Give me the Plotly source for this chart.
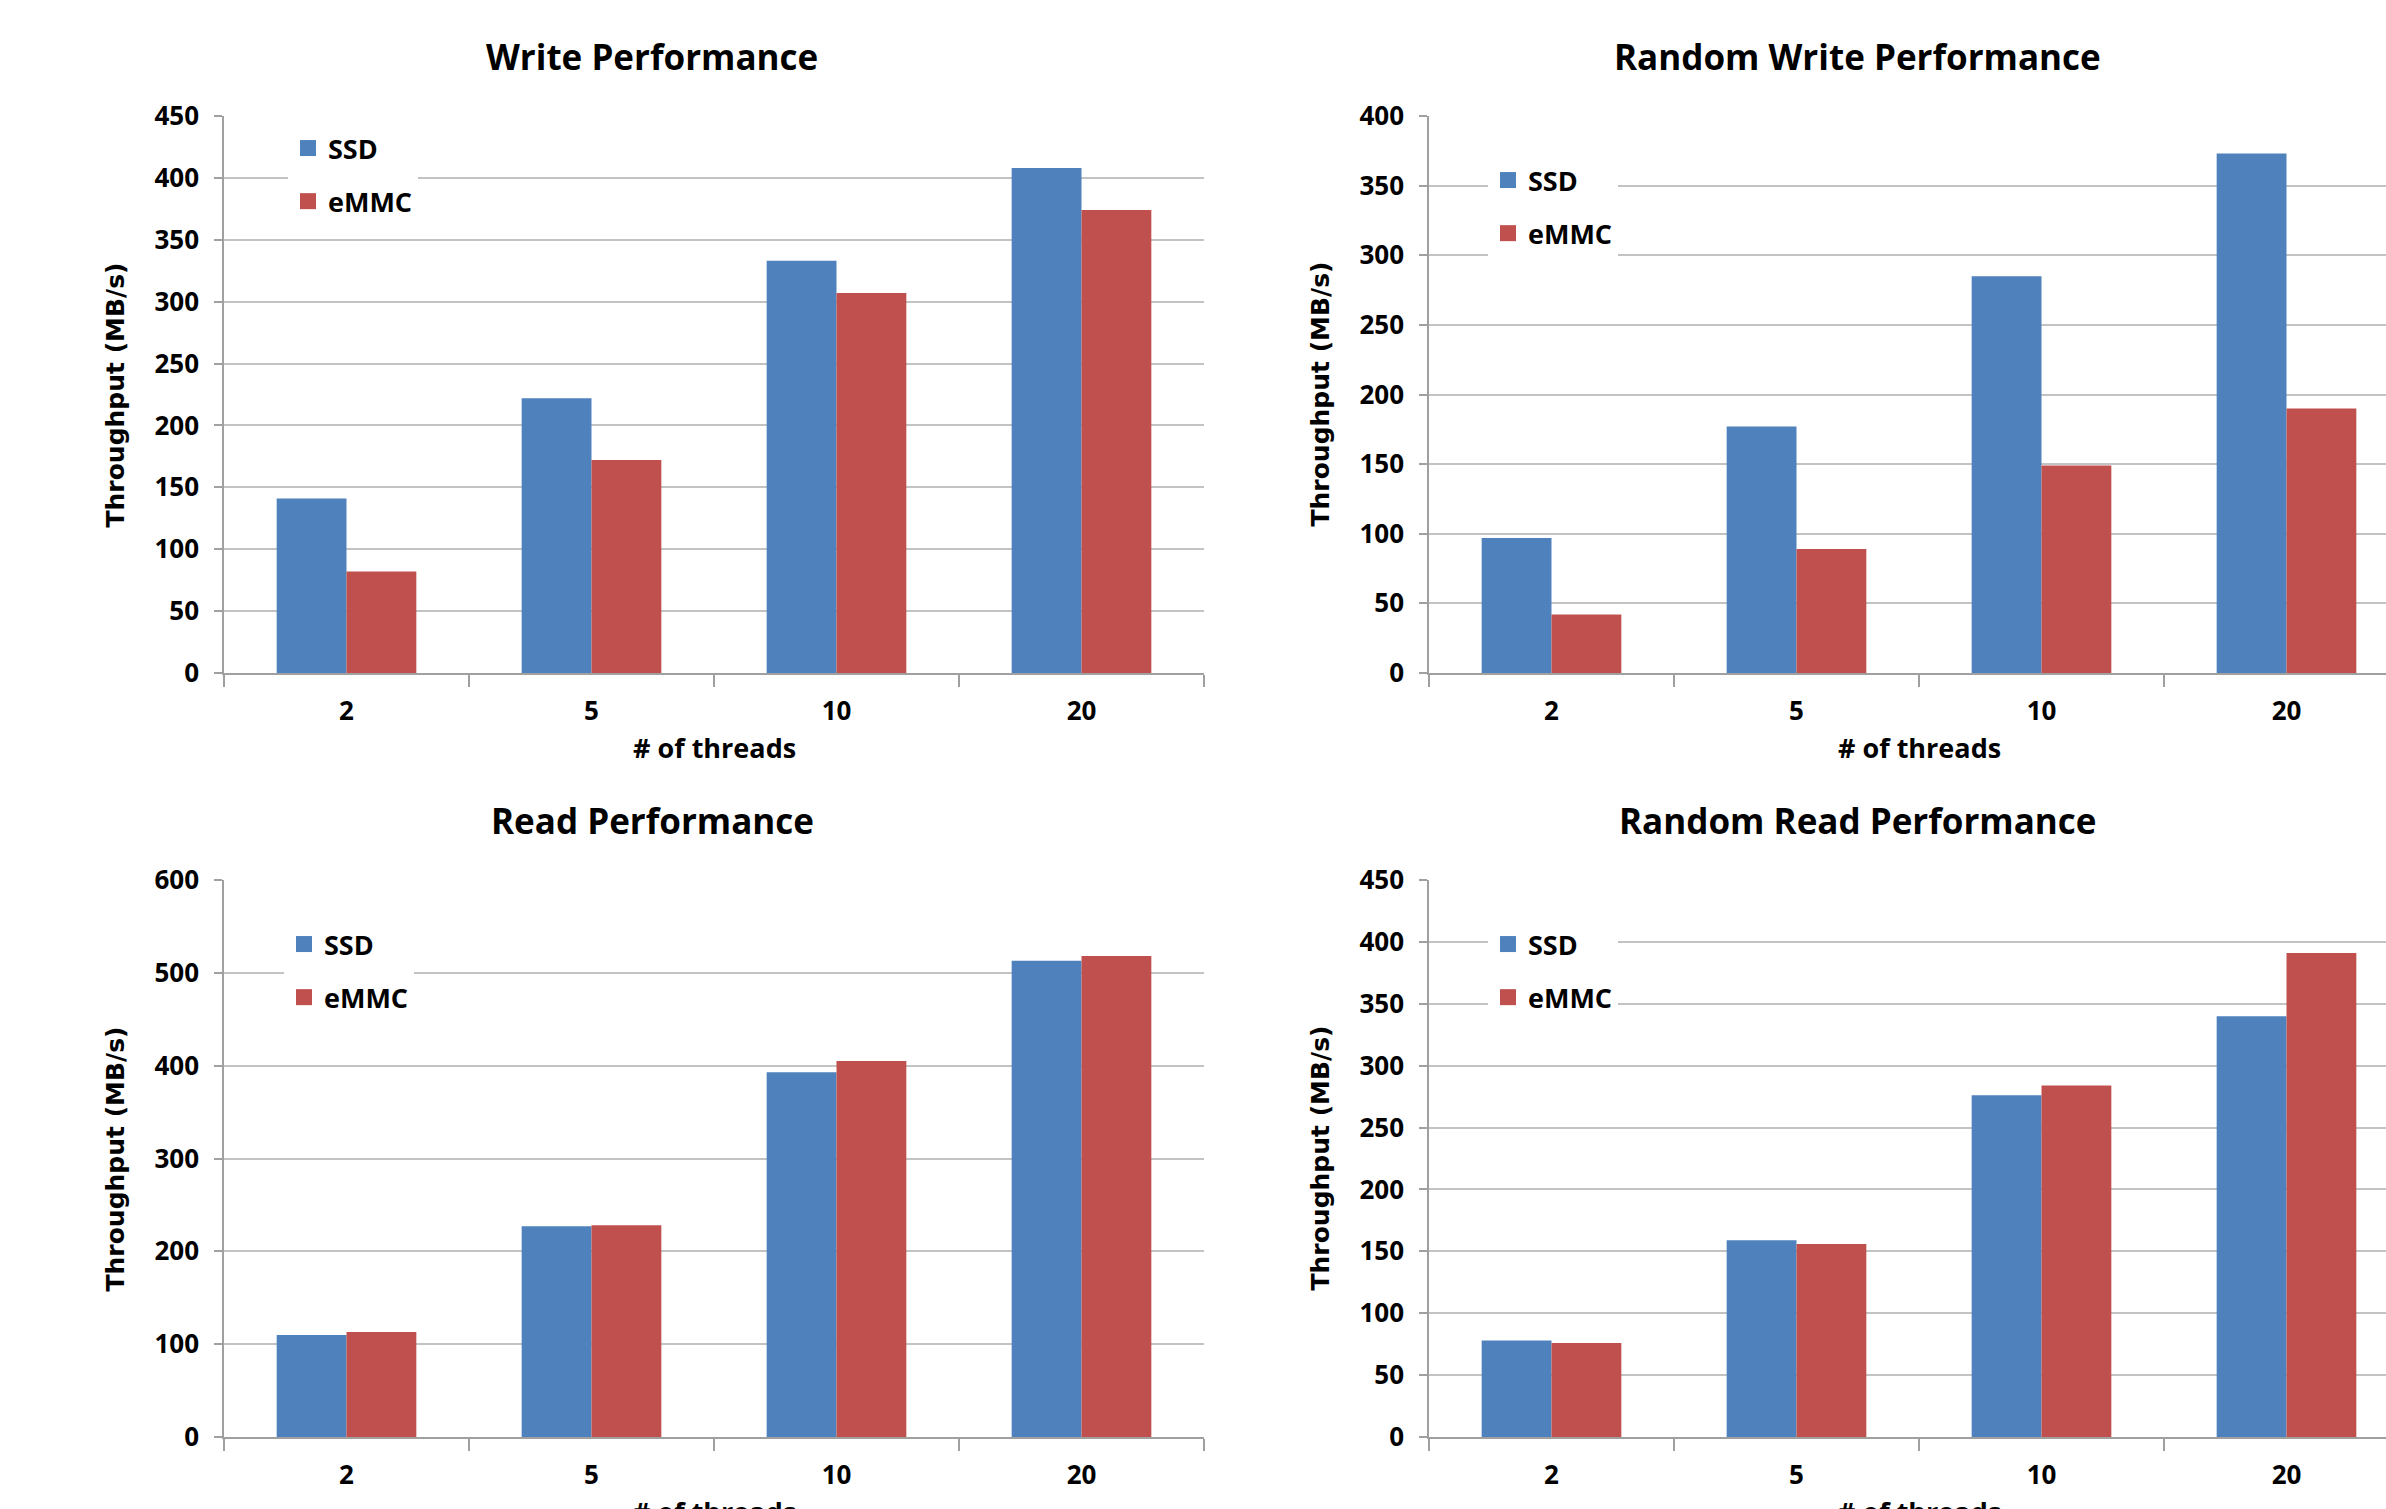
import plotly.graph_objects as go

W, H = 2386, 1509

threads = ["2", "5", "10", "20"]
series_names = ["SSD", "eMMC"]

write_ssd = [141, 222, 333, 408]
write_emmc = [82, 172, 307, 374]
rwrite_ssd = [97, 177, 285, 373]
rwrite_emmc = [42, 89, 149, 190]
read_ssd = [110, 227, 393, 513]
read_emmc = [113, 228, 405, 518]
rread_ssd = [78, 159, 276, 340]
rread_emmc = [76, 156, 284, 391]

titles = ["Write Performance", "Random Write Performance",
          "Read Performance", "Random Read Performance"]
y_max = [450, 400, 600, 450]
y_step = [50, 50, 100, 50]
y_title = "Throughput (MB/s)"
x_title = "# of threads"

BLUE = "#4F81BD"
RED = "#C0504D"
GRID = "#C3C3C3"
AXIS = "#A0A0A0"
FONT = "Open Sans"
TFONT = "DejaVu Sans"

def px(x):
    return x / W

def py(y):
    return 1 - y / H

panels = [
    dict(data=(write_ssd, write_emmc), left=224, top=116, bottom=673, tx=652),
    dict(data=(rwrite_ssd, rwrite_emmc), left=1429, top=116, bottom=673, tx=1857),
    dict(data=(read_ssd, read_emmc), left=224, top=880, bottom=1437, tx=652),
    dict(data=(rread_ssd, rread_emmc), left=1429, top=880, bottom=1437, tx=1858),
]
legend_pos = [(288, 124), (1488, 156), (284, 920), (1488, 920)]
AXW = 980

fig = go.Figure()
annotations = []
layout = {}
for i, p in enumerate(panels):
    n = "" if i == 0 else str(i + 1)
    xa, ya = "x" + n, "y" + n
    lg = "legend" if i == 0 else "legend" + str(i + 1)
    for s, (vals, col) in enumerate(zip(p["data"], (BLUE, RED))):
        fig.add_trace(go.Bar(x=threads, y=vals, name=series_names[s], marker=dict(color=col, line=dict(width=0)),
                             xaxis=xa, yaxis=ya, showlegend=False))
        fig.add_trace(go.Scatter(x=[None], y=[None], mode="markers", name=series_names[s],
                                 marker=dict(symbol="square", size=18, color=col),
                                 xaxis=xa, yaxis=ya, legend=lg, legendgroup=series_names[s] + n))
    right_px = min(p["left"] + AXW, W)
    xr_end = -0.5 + 4 * (right_px - p["left"]) / AXW
    layout["xaxis" + n] = dict(
        domain=[px(p["left"]), px(right_px)], anchor=ya, type="category",
        range=[-0.5, xr_end], showline=True, linecolor=AXIS, linewidth=1.5,
        ticks="outside", tickson="boundaries", ticklen=12, tickcolor=AXIS, tickwidth=1.5,
        showgrid=False, tickfont=dict(family=FONT, size=26, color="black", weight="bold"),
        ticklabelstandoff=14,
    )
    layout["yaxis" + n] = dict(
        domain=[py(p["bottom"]), py(p["top"])], anchor=xa, range=[0, y_max[i]], dtick=y_step[i],
        showline=True, linecolor=AXIS, linewidth=1.5, ticks="outside", ticklen=8, tickcolor=AXIS,
        tickwidth=1.5, showgrid=True, gridcolor=GRID, gridwidth=2, zeroline=False,
        tickfont=dict(family=FONT, size=26, color="black", weight="bold"), ticklabelstandoff=10,
    )
    lx, ly = legend_pos[i]
    layout[lg] = dict(x=px(lx), y=py(ly), xanchor="left", yanchor="top", bgcolor="white",
                      borderwidth=0, font=dict(family=FONT, size=27, color="black", weight="bold"),
                      tracegroupgap=15, itemsizing="trace")
    cx = p["left"] + AXW / 2
    annotations.append(dict(text=titles[i], x=px(p["tx"]), y=py(p["top"] - 60),
                            xref="paper", yref="paper", showarrow=False, xanchor="center", yanchor="middle",
                            font=dict(family=FONT, size=35, color="black", weight="bold")))
    annotations.append(dict(text=y_title, x=px(p["left"] - 109), y=py((p["top"] + p["bottom"]) / 2),
                            xref="paper", yref="paper", showarrow=False, textangle=-90,
                            xanchor="center", yanchor="middle",
                            font=dict(family=TFONT, size=25, color="black", weight="bold")))
    annotations.append(dict(text=x_title, x=px(cx), y=py(p["bottom"] + 74),
                            xref="paper", yref="paper", showarrow=False, xanchor="center", yanchor="middle",
                            font=dict(family=FONT, size=27, color="black", weight="bold")))

fig.update_layout(
    width=W, height=H, margin=dict(l=0, r=0, t=0, b=0, autoexpand=False),
    paper_bgcolor="white", plot_bgcolor="white",
    barmode="group", bargap=0.43, bargroupgap=0,
    annotations=annotations, **layout,
)

fig.write_html("out.html", config={"displayModeBar": False},
               post_script="document.body.style.margin='0';")
